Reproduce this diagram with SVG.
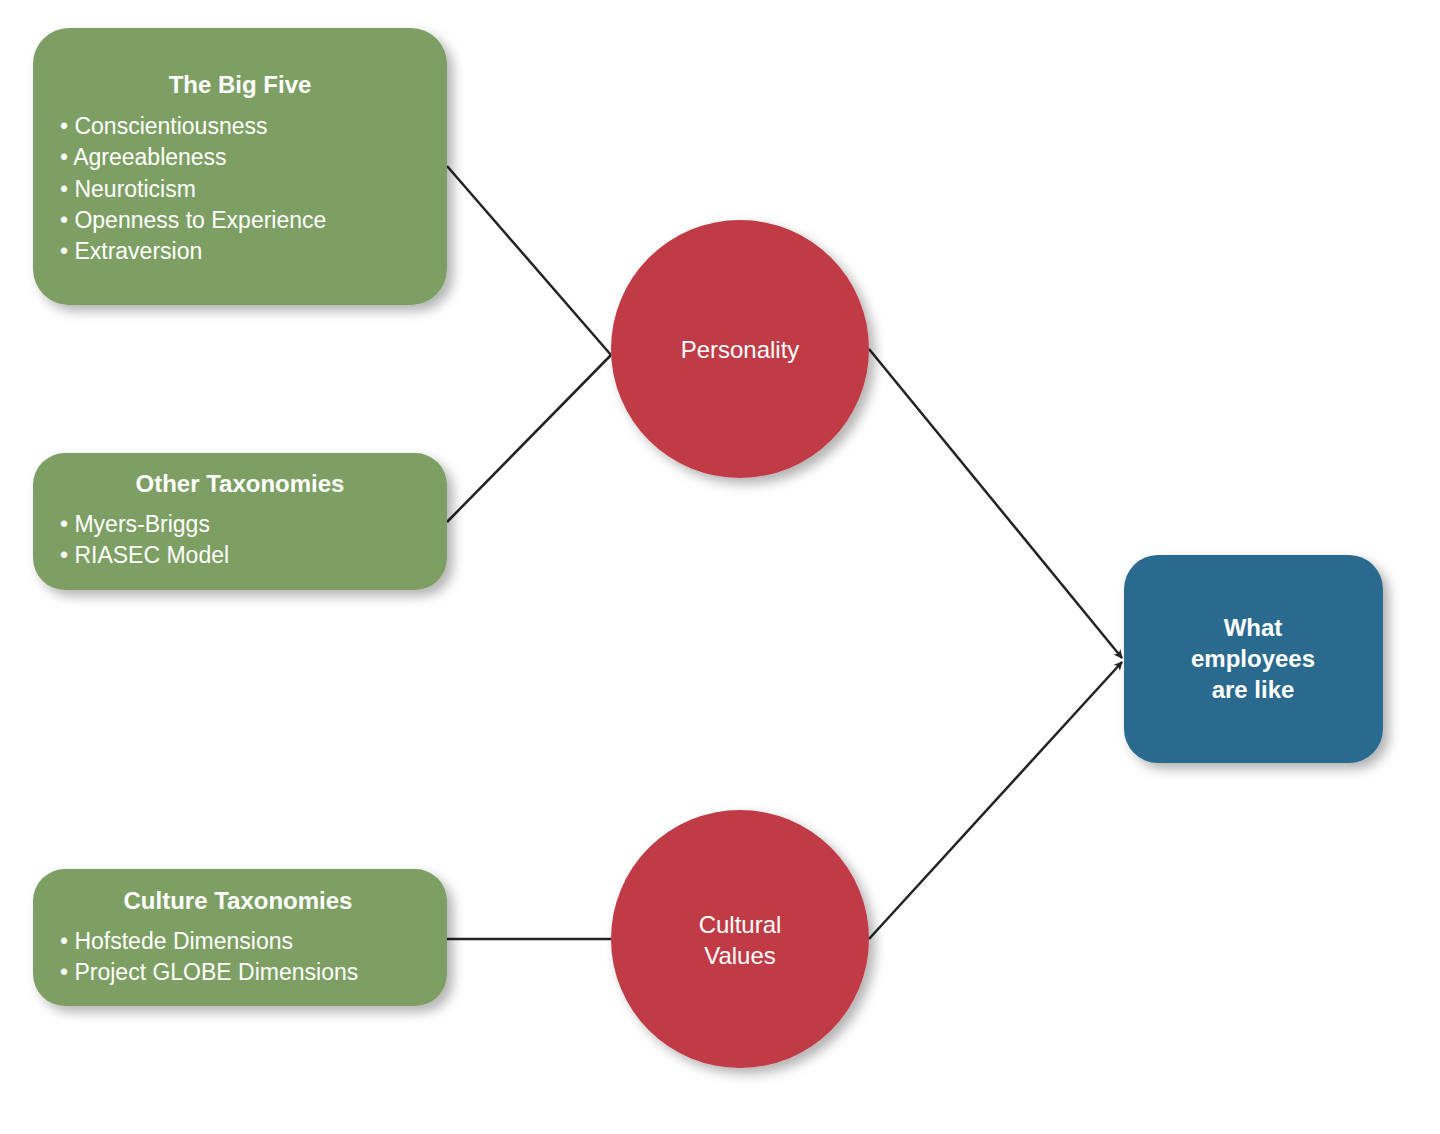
<svg xmlns="http://www.w3.org/2000/svg" width="1440" height="1134" viewBox="0 0 1440 1134">
<style>
.g{fill:#7d9f64}
.r{fill:#c13b47}
.b{fill:#2a6a8e}
text{font-family:"Liberation Sans",Arial,sans-serif;fill:#fff;font-size:23px}
.t{font-weight:bold;text-anchor:middle;font-size:24px}
.c{text-anchor:middle;font-size:24px}
.ln{stroke:#222;stroke-width:2.5;fill:none}
</style>
<defs>
<filter id="sh" x="-20%" y="-20%" width="140%" height="140%"><feDropShadow dx="6" dy="6" stdDeviation="6" flood-color="#000" flood-opacity="0.3"/></filter>
<marker id="ar" viewBox="0 0 10 10" refX="9" refY="5" markerWidth="9" markerHeight="9" markerUnits="userSpaceOnUse" orient="auto"><path d="M0,0 L10,5 L0,10 L3,5 z" fill="#222"/></marker>
</defs>
<rect width="1440" height="1134" fill="#fff"/>
<g id="connectors">
<line class="ln" x1="447" y1="166" x2="611" y2="355"/>
<line class="ln" x1="447" y1="522" x2="611" y2="355"/>
<line class="ln" x1="447" y1="939" x2="611" y2="939"/>
<line class="ln" x1="869" y1="349" x2="1122" y2="658" marker-end="url(#ar)" style="stroke-width:2.5"/>
<line class="ln" x1="869" y1="939" x2="1122" y2="662" marker-end="url(#ar)"/>
</g>
<g id="bigfive">
<rect class="g" x="33" y="28" width="414" height="277" rx="36" filter="url(#sh)"/>
<text class="t" x="240" y="93">The Big Five</text>
<text x="60" y="134">• Conscientiousness</text>
<text x="60" y="165">• Agreeableness</text>
<text x="60" y="197">• Neuroticism</text>
<text x="60" y="228">• Openness to Experience</text>
<text x="60" y="259">• Extraversion</text>
</g>
<g id="other">
<rect class="g" x="33" y="453" width="414" height="137" rx="32" filter="url(#sh)"/>
<text class="t" x="240" y="492">Other Taxonomies</text>
<text x="60" y="532">• Myers-Briggs</text>
<text x="60" y="563">• RIASEC Model</text>
</g>
<g id="culture">
<rect class="g" x="33" y="869" width="414" height="137" rx="32" filter="url(#sh)"/>
<text class="t" x="238" y="909">Culture Taxonomies</text>
<text x="60" y="949">• Hofstede Dimensions</text>
<text x="60" y="980">• Project GLOBE Dimensions</text>
</g>
<g id="personality">
<circle class="r" cx="740" cy="349" r="129" filter="url(#sh)"/>
<text class="c" x="740" y="358">Personality</text>
</g>
<g id="cultural">
<circle class="r" cx="740" cy="939" r="129" filter="url(#sh)"/>
<text class="c" x="740" y="933">Cultural</text>
<text class="c" x="740" y="964">Values</text>
</g>
<g id="what">
<rect class="b" x="1124" y="555" width="259" height="208" rx="34" filter="url(#sh)"/>
<text class="t" x="1253" y="636">What</text>
<text class="t" x="1253" y="667">employees</text>
<text class="t" x="1253" y="698">are like</text>
</g>
</svg>
